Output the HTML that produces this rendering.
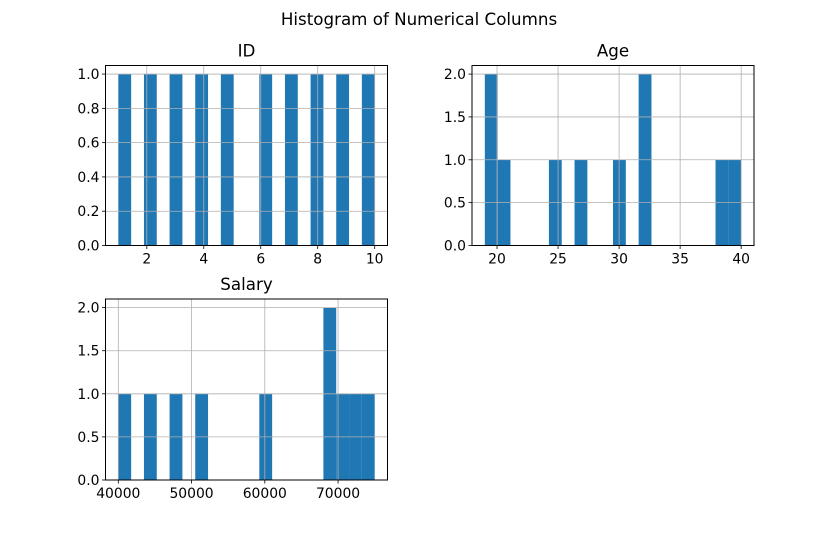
<!DOCTYPE html>
<html><head><meta charset="utf-8"><style>
body{margin:0;background:#fff}
svg text{font-family:"DejaVu Sans","Liberation Sans",sans-serif;fill:#000}
</style></head><body>
<svg id="fig" width="838" height="539" viewBox="0 0 838 539" xmlns="http://www.w3.org/2000/svg">
<rect width="838" height="539" fill="#fff"/>
<text x="419" y="25" text-anchor="middle" font-size="16.7">Histogram of Numerical Columns</text>
</svg>
<script>
const idValues=[1,2,3,4,5,6,7,8,9,10];
const ageValues=[19,20,21,25,27,30,32,32,38,40];
const salaryValues=[40000,44000,48000,51000,60000,68000,69000,70000,72000,75000];
const idXTicks=[2,4,6,8,10];
const ageXTicks=[20,25,30,35,40];
const salaryXTicks=[40000,50000,60000,70000];
const idYTicks=[0,0.2,0.4,0.6,0.8,1.0];
const ageYTicks=[0,0.5,1.0,1.5,2.0];
const salaryYTicks=[0,0.5,1.0,1.5,2.0];
const NBINS=20;
const svg=document.getElementById('fig');
const NS='http://www.w3.org/2000/svg';
function mk(tag,attrs,parent){const e=document.createElementNS(NS,tag);for(const k in attrs)e.setAttribute(k,attrs[k]);(parent||svg).appendChild(e);return e;}
function panel(key,title,vals,xt,yt,L,T,W,H){
  const g=mk('g',{});
  
  
  const mn=Math.min(...vals),mx=Math.max(...vals),bw=(mx-mn)/NBINS;
  const counts=new Array(NBINS).fill(0);
  vals.forEach(v=>{let i=Math.floor((v-mn)/bw);if(i>=NBINS)i=NBINS-1;counts[i]++;});
  const m=(mx-mn)*0.05,x0=mn-m,x1=mx+m;
  const ymax=Math.max(...counts)*1.05;
  const X=v=>L+(v-x0)/(x1-x0)*W, Y=v=>T+H-v/ymax*H;
  counts.forEach((c,i)=>{if(!c)return;
    const r=mk('rect',{x:X(mn+i*bw),y:Y(c),width:X(mn+(i+1)*bw)-X(mn+i*bw),height:Y(0)-Y(c),fill:'#1f77b4'},g);
    
    });
  xt.forEach(t=>{const x=X(t);
    mk('line',{x1:x,x2:x,y1:T,y2:T+H,stroke:'#b0b0b0','stroke-width':0.8},g);
    mk('line',{x1:x,x2:x,y1:T+H,y2:T+H+3.5,stroke:'#000','stroke-width':0.8},g);
    const tx=mk('text',{x:x,y:T+H+18,'text-anchor':'middle','font-size':13.9},g);tx.textContent=t;
    
    });
  yt.forEach(t=>{const y=Y(t);
    mk('line',{x1:L,x2:L+W,y1:y,y2:y,stroke:'#b0b0b0','stroke-width':0.8},g);
    mk('line',{x1:L-3.5,x2:L,y1:y,y2:y,stroke:'#000','stroke-width':0.8},g);
    const tx=mk('text',{x:L-6,y:y+5,'text-anchor':'end','font-size':13.9},g);tx.textContent=t.toFixed(1);
    
    });
  mk('rect',{x:L,y:T,width:W,height:H,fill:'none',stroke:'#000','stroke-width':1},g);
  const tt=mk('text',{x:L+W/2,y:T-9,'text-anchor':'middle','font-size':16.7},g);tt.textContent=title;
  
  
}
panel('id','ID',idValues,idXTicks,idYTicks,105.5,65.5,282,180);
panel('age','Age',ageValues,ageXTicks,ageYTicks,472,65.5,282,180);
panel('salary','Salary',salaryValues,salaryXTicks,salaryYTicks,105.5,299,282,181);
</script>
</body></html>
